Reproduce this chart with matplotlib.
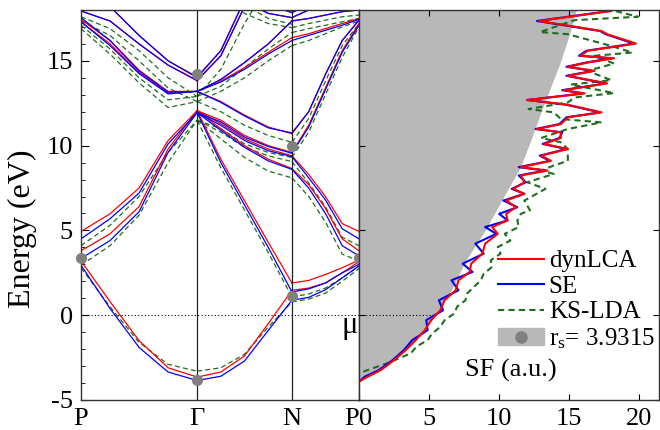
import matplotlib.pyplot as plt
from matplotlib.lines import Line2D
from matplotlib.patches import Patch
import numpy as np

plt.rcParams['font.family'] = ['Liberation Serif', 'DejaVu Serif']
plt.rcParams['mathtext.fontset'] = 'custom'
plt.rcParams['mathtext.rm'] = 'Liberation Serif'
plt.rcParams['mathtext.it'] = 'Liberation Serif:italic'
plt.rcParams['axes.unicode_minus'] = False

###############################################################################
# Band structure data: energies (eV) at 5 k-nodes per path segment

kpoint_labels = ['P', 'Γ', 'N', 'P']
segment_lengths = [0.866, 0.707, 0.5]   # P-Γ, Γ-N, N-P in 2π/a

red_PG = [[3.2, 0.8, -1.5, -3.1, -3.65],
          [3.8, 4.8, 6.4, 9.8, 12.06],
          [4.94, 5.98, 7.5, 10.3, 12.06],
          [17.3, 16.0, 14.3, 13.1, 13.2],
          [17.45, 16.2, 14.45, 13.2, 13.2],
          [17.94, 17.35, 16.0, 14.75, 13.82],
          [19.0, 18.2, 16.5, 15.0, 14.0]]
red_GN = [[-3.65, -3.35, -2.4, -0.5, 1.47],
          [12.06, 9.2, 6.75, 4.3, 1.9],
          [12.06, 11.0, 10.0, 9.2, 8.65],
          [12.06, 11.3, 10.4, 9.8, 9.4],
          [12.06, 11.5, 10.6, 10.0, 9.6],
          [13.2, 12.6, 11.8, 11.1, 10.7],
          [13.2, 13.8, 14.6, 15.5, 16.37],
          [13.2, 13.9, 14.9, 16.0, 17.35],
          [13.82, 15.3, 18.2, 20.5, 22.0],
          [14.0, 15.6, 18.6, 21.0, 23.0],
          [22.0, 20.0, 19.0, 18.3, 17.85],
          [21.0, 19.5, 18.5, 17.8, 17.55]]
red_NP = [[1.47, 1.6, 1.9, 2.5, 3.15],
          [1.9, 2.05, 2.4, 2.8, 3.25],
          [8.65, 7.7, 6.3, 4.5, 3.8],
          [9.4, 8.3, 7.0, 5.4, 4.94],
          [9.6, 11.2, 13.4, 15.6, 17.2],
          [10.7, 12.0, 14.2, 16.2, 17.4],
          [16.37, 16.6, 16.9, 17.2, 17.5],
          [17.35, 17.5, 17.7, 17.9, 18.0],
          [17.55, 18.0, 18.5, 19.0, 19.5],
          [17.85, 18.3, 18.8, 19.3, 19.8]]

blue_PG = [[2.95, 0.4, -1.9, -3.35, -3.85],
           [3.35, 4.4, 6.1, 9.6, 11.95],
           [4.5, 5.69, 7.2, 10.1, 11.95],
           [17.3, 15.9, 14.25, 13.05, 13.2],
           [17.55, 16.2, 14.4, 13.15, 13.2],
           [17.94, 17.35, 16.0, 14.75, 13.85],
           [19.0, 18.2, 16.5, 15.0, 14.05]]
blue_GN = [[-3.85, -3.6, -2.7, -0.9, 0.88],
           [11.95, 9.0, 6.5, 4.0, 1.37],
           [11.95, 10.9, 9.9, 9.1, 8.6],
           [11.95, 11.2, 10.3, 9.7, 9.35],
           [11.95, 11.4, 10.5, 9.95, 9.55],
           [13.2, 12.55, 11.75, 11.05, 10.75],
           [13.2, 13.75, 14.5, 15.4, 16.2],
           [13.2, 13.9, 14.9, 16.0, 17.35],
           [13.85, 15.3, 18.2, 20.5, 22.0],
           [14.05, 15.6, 18.6, 21.0, 23.0],
           [22.0, 20.0, 19.0, 18.3, 17.85],
           [21.0, 19.5, 18.5, 17.8, 17.55]]
blue_NP = [[0.88, 1.05, 1.5, 2.2, 2.9],
           [1.37, 1.55, 1.9, 2.5, 3.0],
           [8.6, 7.5, 6.0, 4.1, 3.5],
           [9.35, 8.1, 6.8, 5.1, 4.5],
           [9.55, 11.1, 13.3, 15.5, 17.1],
           [10.75, 12.0, 14.2, 16.2, 17.4],
           [16.2, 16.5, 16.8, 17.1, 17.45],
           [17.35, 17.5, 17.7, 17.9, 18.0],
           [17.55, 18.0, 18.5, 19.0, 19.5],
           [17.85, 18.3, 18.8, 19.3, 19.8]]

green_PG = [[2.8, 0.5, -1.6, -2.9, -3.3],
            [2.95, 4.1, 5.9, 9.0, 11.5],
            [4.1, 5.3, 7.0, 9.6, 11.5],
            [16.9, 15.4, 13.7, 12.25, 12.6],
            [17.1, 15.7, 14.0, 12.7, 12.9],
            [17.35, 16.5, 15.0, 13.4, 12.6],
            [17.6, 16.9, 15.6, 14.0, 12.9]]
green_GN = [[-3.3, -3.1, -2.3, -0.7, 0.78],
            [11.5, 8.7, 6.2, 3.7, 1.08],
            [11.5, 10.4, 9.3, 8.5, 8.1],
            [11.5, 10.8, 9.9, 9.4, 9.06],
            [11.5, 11.0, 10.1, 9.6, 9.3],
            [12.6, 12.0, 11.2, 10.6, 10.2],
            [12.6, 13.2, 14.0, 15.0, 15.9],
            [12.9, 13.5, 14.6, 15.7, 16.67],
            [12.9, 14.5, 17.2, 19.5, 21.0],
            [20.0, 18.7, 17.8, 17.2, 16.96],
            [21.0, 19.5, 18.3, 17.5, 17.16]]
green_NP = [[0.78, 0.95, 1.3, 2.0, 2.75],
            [1.08, 1.25, 1.6, 2.2, 2.9],
            [8.1, 7.0, 5.5, 3.6, 3.2],
            [9.06, 7.8, 6.4, 4.6, 4.1],
            [9.3, 10.8, 13.0, 15.2, 17.0],
            [10.2, 11.6, 13.8, 15.9, 17.2],
            [15.9, 16.2, 16.6, 17.0, 17.35],
            [16.67, 16.9, 17.1, 17.3, 17.5],
            [16.96, 17.2, 17.4, 17.6, 17.7]]

# free-electron reference points (high-symmetry point index, energy)
dot_kindex = [0, 1, 1, 2, 2, 3]
dot_energy = [3.35, -3.83, 14.2, 1.12, 9.95, 3.35]

###############################################################################
# Structure factor data: (energy, SF) pairs

sf_red = [(-5.0, 0.0), (-3.92, 0.0), (-3.63, 0.6), (-3.24, 1.55), (-2.65, 2.5),
          (-2.06, 3.33), (-1.47, 4.05), (-0.88, 4.7), (-0.29, 5.15),
          (0.29, 5.8), (0.88, 6.1), (1.47, 6.9), (2.06, 7.1), (2.55, 7.9),
          (3.04, 8.0), (3.63, 8.8), (4.22, 9.0), (4.8, 9.9), (5.2, 9.5),
          (5.59, 10.6), (5.98, 10.5), (6.37, 11.2), (6.76, 10.5),
          (7.16, 11.8), (7.45, 11.0), (7.84, 11.8), (8.24, 11.55),
          (8.53, 13.45), (8.73, 11.55), (9.1, 13.7), (9.41, 13.0),
          (9.8, 14.9), (10.1, 13.2), (10.45, 14.4), (10.78, 14.4),
          (10.98, 12.7), (11.27, 14.4), (11.67, 14.9), (11.96, 17.3),
          (12.41, 14.9), (12.69, 12.0), (13.08, 16.1), (13.27, 14.6),
          (13.67, 17.7), (14.12, 14.9), (14.41, 16.8), (14.65, 14.9),
          (14.9, 16.3), (15.15, 18.2), (15.3, 15.8), (15.59, 16.3),
          (16.02, 19.76), (16.57, 17.7), (16.76, 17.3), (17.35, 12.86),
          (17.94, 17.98), (18.2, 18.5)]
sf_blue = [(-5.0, 0.0), (-3.92, 0.0), (-3.63, 0.4), (-3.24, 1.4), (-2.65, 2.4),
           (-2.06, 3.2), (-1.47, 3.8), (-0.88, 4.9), (-0.29, 4.8),
           (0.29, 6.0), (0.88, 5.7), (1.47, 7.1), (2.06, 6.6), (2.55, 8.1),
           (3.04, 7.4), (3.63, 8.9), (4.22, 8.3), (4.8, 9.8), (5.2, 9.0),
           (5.59, 10.6), (5.98, 10.0), (6.37, 11.3), (6.76, 10.3),
           (7.16, 11.8), (7.45, 10.9), (7.84, 11.9), (8.24, 11.4),
           (8.53, 13.3), (8.73, 11.4), (9.1, 13.6), (9.41, 12.9),
           (9.8, 14.8), (10.1, 13.1), (10.45, 14.3), (10.78, 14.5),
           (10.98, 12.6), (11.27, 14.3), (11.67, 14.8), (11.96, 17.2),
           (12.41, 14.8), (12.69, 12.0), (13.08, 16.0), (13.27, 14.5),
           (13.67, 17.6), (14.12, 14.8), (14.41, 16.7), (14.65, 14.8),
           (14.9, 16.2), (15.15, 18.0), (15.3, 15.7), (15.59, 16.2),
           (16.02, 19.6), (16.57, 17.6), (16.76, 17.2), (17.35, 12.7),
           (17.94, 17.9), (18.2, 18.4)]
sf_green = [(-5.0, 0.0), (-3.43, 0.0), (-3.24, 0.6), (-2.84, 2.0), (-2.25, 3.7),
            (-1.85, 4.1), (-1.47, 4.9), (-1.1, 5.2), (-0.69, 5.8),
            (-0.3, 6.1), (0.1, 6.8), (0.5, 7.0), (0.88, 7.6), (1.27, 7.7),
            (1.67, 8.2), (2.06, 8.7), (2.45, 8.9), (2.85, 9.5), (3.24, 9.4),
            (3.63, 10.1), (4.02, 9.9), (4.4, 10.8), (4.8, 10.4), (5.2, 11.4),
            (5.59, 11.3), (5.98, 11.55), (6.18, 12.2), (6.76, 11.8),
            (7.45, 13.3), (7.84, 12.0), (8.33, 13.9), (8.53, 13.0),
            (8.83, 13.9), (9.1, 14.9), (9.8, 14.9), (10.2, 14.4),
            (10.45, 13.0), (10.98, 14.9), (11.37, 17.3), (11.57, 14.4),
            (11.96, 13.9), (12.16, 12.1), (12.55, 14.9), (12.84, 15.4),
            (13.1, 18.2), (13.6, 15.1), (13.86, 18.0), (14.41, 16.3),
            (14.84, 18.2), (15.3, 16.8), (15.49, 19.5), (15.88, 18.0),
            (16.57, 14.9), (16.7, 12.9), (17.4, 15.4), (17.6, 19.9),
            (17.96, 18.2), (18.2, 18.0)]
# free-electron (r_s = 3.9315) shaded region boundary
sf_free = [(-3.83, 0.0), (-3.6, 0.8), (-3.0, 2.0), (-2.0, 3.4), (-1.0, 4.5),
           (0.0, 5.5), (1.5, 6.6), (3.2, 7.6), (5.0, 9.0), (6.8, 10.2),
           (8.7, 11.5), (10.4, 12.3), (12.0, 13.0), (13.5, 13.7),
           (15.0, 14.4), (16.8, 15.1), (18.0, 15.5)]

###############################################################################
# Plot

fig = plt.figure(figsize=(6.6, 4.3), dpi=100)
ax1 = fig.add_axes([0.1227, 0.0698, 0.4212, 0.907])
ax2 = fig.add_axes([0.5439, 0.0698, 0.4545, 0.907])

kticks = np.concatenate([[0], np.cumsum(segment_lengths)])

styles = [(green_PG, green_GN, green_NP, dict(color='#1f6e1f', ls=(0, (4, 2.5)))),
          (red_PG, red_GN, red_NP, dict(color='red', ls='-')),
          (blue_PG, blue_GN, blue_NP, dict(color='blue', ls='-'))]
for segs_pg, segs_gn, segs_np, st in styles:
    for iseg, bands in enumerate([segs_pg, segs_gn, segs_np]):
        kk = np.linspace(kticks[iseg], kticks[iseg + 1], 5)
        for band in bands:
            ax1.plot(kk, band, lw=0.9, **st)

for kx in kticks[1:3]:
    ax1.axvline(kx, color='#222222', lw=0.9)
ax1.axhline(0, color='black', lw=0.8, ls=(0, (1, 2)))
ax1.plot(kticks[dot_kindex], dot_energy, 'o', color='#808080', ms=7,
         zorder=5, clip_on=False)
ax1.text(kticks[-1] - 0.005, -1.05, 'μ', fontsize=22, ha='right',
         va='baseline')

ax1.set_xlim(kticks[0], kticks[-1])
ax1.set_ylim(-5, 18)
ax1.set_xticks(kticks, labels=kpoint_labels)
ax1.get_xticklabels()[-1].set_ha('right')
ax1.tick_params(axis='x', length=0, labelsize=19, pad=6)
ax1.set_yticks([-5, 0, 5, 10, 15])
ax1.set_yticks(np.arange(-5, 19), minor=True)
ax1.tick_params(axis='y', which='both', direction='in', labelsize=19, pad=6)
ax1.tick_params(axis='y', which='major', length=6)
ax1.tick_params(axis='y', which='minor', length=3)
ax1.set_ylabel('Energy (eV)', fontsize=23, va='center')
ax1.yaxis.set_label_coords(-0.21, 0.44)

# right panel: structure factor
free_E = [p[0] for p in sf_free]
free_x = [p[1] for p in sf_free]
ax2.fill_betweenx(free_E, 0, free_x, color='#b8b8b8', lw=0)
ax2.plot([0, np.interp(0, free_E, free_x)], [0, 0], color='black', lw=0.8,
         ls=(0, (1, 2)))
ax2.plot([p[1] for p in sf_green], [p[0] for p in sf_green],
         color='#1f6e1f', lw=1.5, ls=(0, (3, 2)))
ax2.plot([p[1] for p in sf_blue], [p[0] for p in sf_blue], color='blue', lw=1.5)
ax2.plot([p[1] for p in sf_red], [p[0] for p in sf_red], color='red', lw=1.5)

ax2.set_xlim(0, 21.4)
ax2.set_ylim(-5, 18)
ax2.set_xticks([0, 5, 10, 15, 20])
ax2.get_xticklabels()[0].set_ha('left')
ax2.set_yticks([-5, 0, 5, 10, 15], labels=[])
ax2.tick_params(direction='in', top=True, right=True, labelsize=19, length=4,
                pad=6)
ax2.text(0.507, 0.077, 'SF (a.u.)', transform=ax2.transAxes, fontsize=19,
         ha='center', va='center')

handles = [Line2D([], [], color='red', lw=1.5),
           Line2D([], [], color='blue', lw=1.5),
           Line2D([], [], color='#1f6e1f', lw=1.5, ls=(0, (3, 2))),
           (Patch(color='#b8b8b8'),
            Line2D([], [], marker='o', color='#808080', ls='', ms=8))]
ax2.legend(handles, ['dynLCA', 'SE', 'KS-LDA', r'r$_\mathrm{s}$= 3.9315'],
           loc='upper left', bbox_to_anchor=(0.462, 0.385), frameon=False,
           fontsize=18, handlelength=1.85, handletextpad=0.2,
           labelspacing=0.12, borderpad=0, borderaxespad=0)

for ax in (ax1, ax2):
    for sp in ax.spines.values():
        sp.set_color('#333333')
        sp.set_linewidth(1.0)

fig.savefig('out.png', dpi=100)
